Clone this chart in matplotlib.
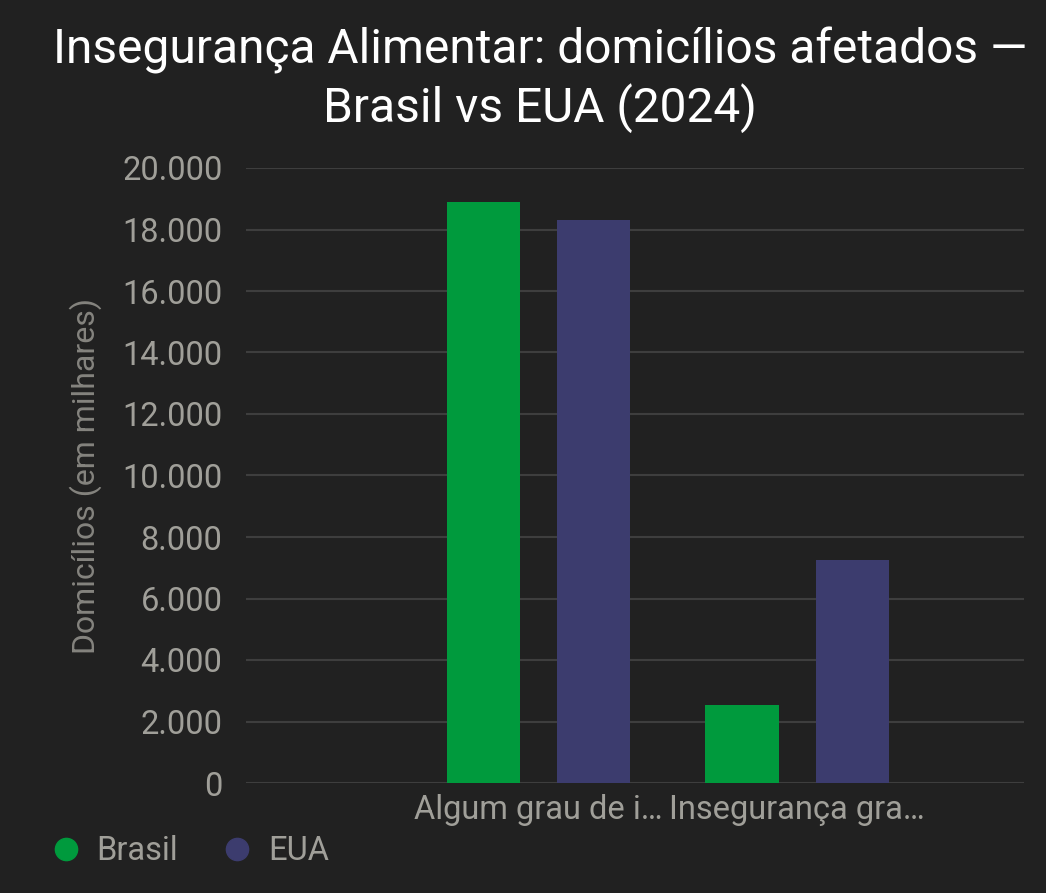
import matplotlib
matplotlib.use("Agg")
import matplotlib.pyplot as plt
import numpy as np
from matplotlib.ticker import FuncFormatter
from matplotlib.lines import Line2D

categories = ["Algum grau de i…", "Insegurança gra…"]
series_names = ["Brasil", "EUA"]
brasil = [18900, 2550]
eua = [18300, 7250]
yticks = [0, 2000, 4000, 6000, 8000, 10000, 12000, 14000, 16000, 18000, 20000]

BG = "#212121"
GREEN = "#009a3d"
PURPLE = "#3c3c6e"
GRID = "#3e3e3e"
TICK = "#a09f99"
LABEL = "#85847f"

plt.rcParams["font.family"] = ["Roboto", "DejaVu Sans"]

fig = plt.figure(figsize=(10.46, 8.93), dpi=100, facecolor=BG)
ax = fig.add_axes([246/1046, 1-783/893, (1024-246)/1046, (783-168)/893])
ax.set_facecolor(BG)

x = np.arange(len(categories))
off = 0.213
w = 0.283
ax.bar(x - off, brasil, width=w, color=GREEN, zorder=3)
ax.bar(x + off, eua, width=w, color=PURPLE, zorder=3)

ax.set_xlim(-1.129, 1.876)
ax.set_ylim(0, 20000)
ax.set_yticks(yticks)
ax.yaxis.set_major_formatter(FuncFormatter(lambda v, p: f"{int(v):,}".replace(",", ".")))
ax.set_xticks(x)
ax.set_xticklabels(categories)
ax.grid(axis="y", color=GRID, linewidth=1.5, zorder=0)
ax.grid(axis="x", visible=False)
for s in ax.spines.values():
    s.set_visible(False)
ax.tick_params(axis="y", length=0, pad=17, labelsize=23.5, labelcolor=TICK)
ax.tick_params(axis="x", length=0, pad=8, labelsize=23.5, labelcolor=TICK)

ax.set_ylabel("Domicílios (em milhares)", fontsize=23, color=LABEL)
ax.yaxis.set_label_coords(-0.185, 0.5)

fig.text(540/1046, 1-80/893, "Insegurança Alimentar: domicílios afetados —\nBrasil vs EUA (2024)",
         ha="center", va="center", multialignment="center", fontsize=34.5,
         color="#ffffff", linespacing=1.22)

handles = [Line2D([], [], marker="o", linestyle="none", markersize=16, color=GREEN),
           Line2D([], [], marker="o", linestyle="none", markersize=16, color=PURPLE)]
leg = fig.legend(handles, series_names, loc="center left", bbox_to_anchor=(20/1046, 1-851/893),
                 ncol=2, frameon=False, fontsize=23.5, labelcolor=TICK,
                 handletextpad=0.45, columnspacing=1.3, handlelength=1.0)

fig.savefig("out.png", dpi=100, facecolor=BG)
